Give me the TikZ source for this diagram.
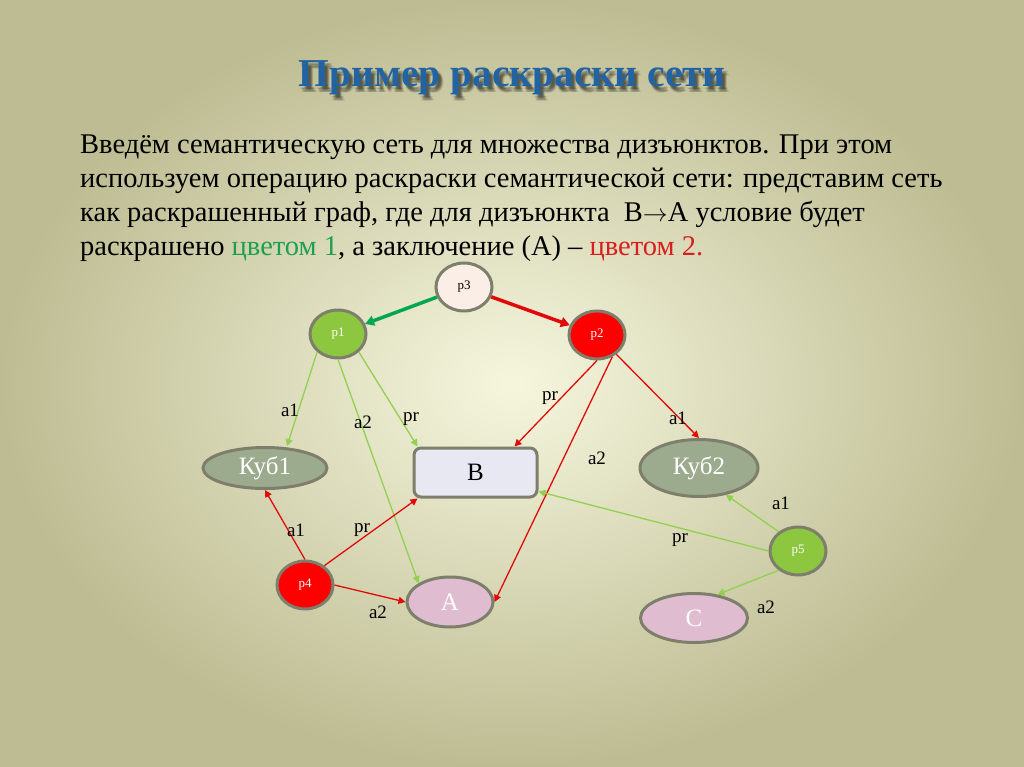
\documentclass[tikz,border=0pt]{standalone}
\usepackage{fontspec}
\setmainfont{Liberation Serif}
\usetikzlibrary{arrows.meta,shapes.geometric,positioning}

\definecolor{bgin}{HTML}{F6F6DE}
\definecolor{bgout}{HTML}{BDBC92}
\definecolor{ttl}{HTML}{2263A3}
\definecolor{lgreen}{HTML}{92D050}
\definecolor{dgreen}{HTML}{00A651}
\definecolor{txtgreen}{HTML}{1FA050}
\definecolor{txtred}{HTML}{D81E1E}
\definecolor{pred}{HTML}{FF0000}
\definecolor{ered}{HTML}{E00A0A}
\definecolor{rim}{HTML}{7E7E6C}
\definecolor{kub}{HTML}{9CAA8E}
\definecolor{pinkA}{HTML}{E0BCD0}
\definecolor{lav}{HTML}{E8E8F2}
\definecolor{cream}{HTML}{FBEEE6}
\definecolor{pgreen}{HTML}{8DC63F}

\begin{document}
\begin{tikzpicture}[x=1pt,y=-1pt,
  vert/.style={ellipse,draw=rim,line width=3pt,inner sep=0pt},
  pn/.style={vert,minimum width=56pt,minimum height=48pt,font=\fontsize{13}{13}\selectfont},
  big/.style={vert,font=\fontsize{25}{25}\selectfont,text=white},
  lbl/.style={font=\fontsize{19}{19}\selectfont,inner sep=0pt},
  gl/.style={lgreen,line width=1.3pt,-{Triangle[length=7pt,width=7pt]}},
  rl/.style={ered,line width=1.3pt,-{Triangle[length=7pt,width=7pt]}},
  fat/.style={line width=3.5pt,-{Triangle[length=9pt,width=10pt]}}
]
  % background
  \shade[inner color=bgin,outer color=bgout] (0,0) rectangle (1024,767);
  \useasboundingbox (0,0) rectangle (1024,767);

  % title with soft shadow
  \foreach \dx/\dy in {3/4,4/5,5/6,2/3,4/3,3/6}{
    \node[anchor=base,font=\fontsize{39.5}{39.5}\selectfont\bfseries,text=black,opacity=0.12]
      at (512+\dx,87+\dy) {Пример раскраски сети};
  }
  \node (title) [anchor=base,font=\fontsize{39.5}{39.5}\selectfont\bfseries,text=ttl]
    at (512,87) {Пример раскраски сети};

  % text (anchor base = last line)
  \node (intro) [anchor=base west,align=left,inner sep=0pt,
    font=\fontsize{28.5}{34}\selectfont] at (80,255)
    {Введём семантическую сеть для множества дизъюнктов. При этом\\
     используем операцию раскраски семантической сети: представим сеть\\
     как раскрашенный граф, где для дизъюнкта ~B$\rightarrow$A условие будет\\
     раскрашено \textcolor{txtgreen}{цветом 1}, а заключение (А) – \textcolor{txtred}{цветом 2.}};

  % nodes
  \node (p3) [pn,fill=cream] at (464,287) {p3};
  \node (p1) [pn,fill=pgreen,text=white] at (338,334) {p1};
  \node (p2) [pn,fill=pred,text=white] at (597,335) {p2};
  \node (p4) [pn,fill=pred,text=white] at (305,585) {p4};
  \node (p5) [pn,fill=pgreen,text=white] at (798,551) {p5};
  \node (K1) [big,fill=kub,minimum width=124pt,minimum height=41pt] at (265,468) {Куб1};
  \node (K2) [big,fill=kub,minimum width=118pt,minimum height=57pt] at (699,468) {Куб2};
  \node (A) [big,fill=pinkA,minimum width=86pt,minimum height=50pt] at (450,602) {A};
  \node (C) [big,fill=pinkA,minimum width=107pt,minimum height=49pt] at (694,618) {C};
  \node (B) [rectangle,rounded corners=7pt,draw=rim,line width=3pt,fill=lav,
    minimum width=123pt,minimum height=49pt,font=\fontsize{25}{25}\selectfont] at (475.5,472.5) {B};

  % connectors
  \draw[fat,dgreen] (p3) -- (p1);
  \draw[fat,ered] (p3) -- (p2);
  \draw[gl] (p1.south west) -- ([xshift=22pt]K1.north);
  \draw[gl] (p1.south) -- (A.north west);
  \draw[gl] (p1.south east) -- ([xshift=5pt]B.north west);
  \draw[rl] (p2.south) -- ([xshift=-24pt]B.north east);
  \draw[rl] (p2.-55) -- (A.east);
  \draw[rl] (p2.-45) -- (K2.north);
  \draw[rl] (p4.north) -- (K1.south);
  \draw[rl] (p4.45) -- ([xshift=5pt]B.south west);
  \draw[rl] (p4.east) -- (A.west);
  \draw[gl] (p5.135) -- (K2.-45);
  \draw[gl] (p5.west) -- ([yshift=7pt]B.south east);
  \draw[gl] (p5.-135) -- (C.45);

  % connector labels
  \node[lbl] at (290,410) {a1};
  \node[lbl] at (363,422) {a2};
  \node[lbl] at (411,419) {pr};
  \node[lbl] at (550,398) {pr};
  \node[lbl] at (597,458) {a2};
  \node[lbl] at (678,418) {a1};
  \node[lbl] at (781,503) {a1};
  \node[lbl] at (680,540) {pr};
  \node[lbl] at (766,607) {a2};
  \node[lbl] at (296,530) {a1};
  \node[lbl] at (362,530) {pr};
  \node[lbl] at (378,612) {a2};
\end{tikzpicture}
\end{document}
